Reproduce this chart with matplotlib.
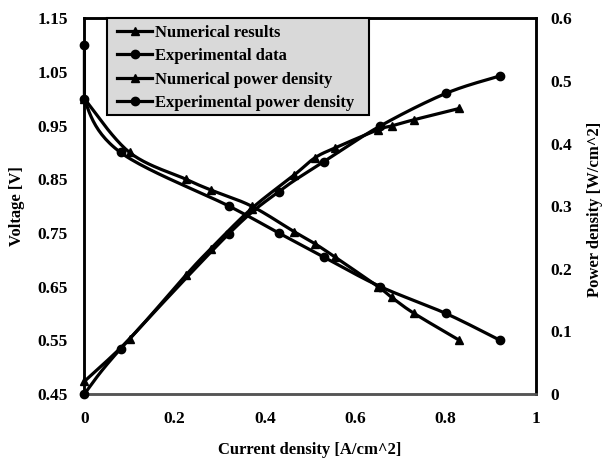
import numpy as np
import matplotlib
matplotlib.use("Agg")
import matplotlib.pyplot as plt
from matplotlib.lines import Line2D
from matplotlib.patches import Rectangle

# Polarization data (current density in A/cm^2, voltage in V)
num_i = [0.0, 0.10, 0.225, 0.28, 0.37, 0.465, 0.51, 0.555, 0.65, 0.68, 0.73, 0.83]
num_v = [1.00, 0.90, 0.85, 0.83, 0.80, 0.752, 0.73, 0.705, 0.65, 0.63, 0.60, 0.55]
exp_i = [0.0, 0.0, 0.08, 0.32, 0.43, 0.53, 0.655, 0.80, 0.92]
exp_v = [1.10, 1.00, 0.90, 0.80, 0.75, 0.705, 0.65, 0.60, 0.55]

# Power density curves (W/cm^2)
nump_i = [0.0, 0.10, 0.225, 0.28, 0.37, 0.465, 0.51, 0.555, 0.65, 0.68, 0.73, 0.83]
nump_p = [0.02, 0.088, 0.19, 0.232, 0.296, 0.35, 0.377, 0.393, 0.422, 0.428, 0.438, 0.456]
expp_i = [0.0, 0.08, 0.32, 0.43, 0.53, 0.655, 0.80, 0.92]
expp_p = [0.0, 0.072, 0.256, 0.323, 0.371, 0.428, 0.48, 0.508]

x_ticks = [0, 0.2, 0.4, 0.6, 0.8, 1]
x_tick_labels = ["0", "0.2", "0.4", "0.6", "0.8", "1"]
v_ticks = [0.45, 0.55, 0.65, 0.75, 0.85, 0.95, 1.05, 1.15]
p_ticks = [0, 0.1, 0.2, 0.3, 0.4, 0.5, 0.6]
p_tick_labels = ["0", "0.1", "0.2", "0.3", "0.4", "0.5", "0.6"]

legend_labels = ["Numerical results", "Experimental data",
                 "Numerical power density", "Experimental power density"]

SERIF = "Liberation Serif"


def smooth(x, y, n=24):
    """Catmull-Rom style smoothing through the given points."""
    x = np.asarray(x, float)
    y = np.asarray(y, float)
    if len(x) < 3:
        return x, y
    px = np.concatenate([[x[0]], x, [x[-1]]])
    py = np.concatenate([[y[0]], y, [y[-1]]])
    xs, ys = [], []
    t = np.linspace(0, 1, n, endpoint=False)
    for k in range(1, len(px) - 2):
        p0 = np.array([px[k - 1], py[k - 1]])
        p1 = np.array([px[k], py[k]])
        p2 = np.array([px[k + 1], py[k + 1]])
        p3 = np.array([px[k + 2], py[k + 2]])
        c1 = p1 + (p2 - p0) / 6.0
        c2 = p2 - (p3 - p1) / 6.0
        b = ((1 - t) ** 3)[:, None] * p1 + (3 * (1 - t) ** 2 * t)[:, None] * c1 \
            + (3 * (1 - t) * t ** 2)[:, None] * c2 + (t ** 3)[:, None] * p2
        xs.append(b[:, 0])
        ys.append(b[:, 1])
    xs.append([x[-1]])
    ys.append([y[-1]])
    # keep the curve from bulging left of the origin
    return np.clip(np.concatenate(xs), 0, None), np.concatenate(ys)


fig = plt.figure(figsize=(6.03, 4.58), dpi=100)
ax = fig.add_axes([0.140, 0.140, 0.749, 0.820])
ax2 = ax.twinx()

lw = 2.3
TRI_MS = 5.5
DOT_MS = 6.0


def draw(a, x, y, marker, ms):
    sx, sy = smooth(x, y)
    a.plot(sx, sy, color="black", lw=lw, solid_capstyle="round", clip_on=False, zorder=3)
    a.plot(x, y, ls="none", marker=marker, ms=ms, color="black", clip_on=False, zorder=4)


draw(ax, num_i, num_v, "^", TRI_MS)
draw(ax, exp_i, exp_v, "o", DOT_MS)
draw(ax2, nump_i, nump_p, "^", TRI_MS)
draw(ax2, expp_i, expp_p, "o", DOT_MS)

ax.set_xlim(0, 1)
ax.set_ylim(0.45, 1.15)
ax2.set_ylim(0, 0.6)

tick_font = dict(family=SERIF, weight="bold", size=12.5)
ax.set_xticks(x_ticks)
ax.set_xticklabels(x_tick_labels, **tick_font)
ax.set_yticks(v_ticks)
ax.set_yticklabels([f"{v:.2f}" for v in v_ticks], **tick_font)
ax2.set_yticks(p_ticks)
ax2.set_yticklabels(p_tick_labels, **tick_font)

ax.tick_params(axis="y", length=0, pad=12)
ax.tick_params(axis="x", length=0, pad=12)
ax2.tick_params(axis="y", length=0, pad=10)

for a in (ax, ax2):
    for s in a.spines.values():
        s.set_linewidth(1.8)
        s.set_color("black")
ax.spines["bottom"].set_color("#555555")
ax2.spines["bottom"].set_color("#555555")

label_font = dict(family=SERIF, weight="bold", size=12)
ax.set_xlabel("Current density [A/cm^2]", va="center", ha="center", **label_font)
ax.xaxis.set_label_coords(0.498, -0.149)
ax.set_ylabel("Voltage [V]", va="center", ha="center", **label_font)
ax.yaxis.set_label_coords(-0.149, 0.5)
ax2.set_ylabel("Power density [W/cm^2]", rotation=90, va="center", ha="center", **label_font)
ax2.yaxis.set_label_coords(1.13, 0.49)

# grey legend panel
panel = Rectangle((0.0498, 0.7426), 0.630 - 0.0498, 1.0 - 0.7426,
                  transform=ax2.transAxes, facecolor="#d9d9d9",
                  edgecolor="black", linewidth=1.5, zorder=9, clip_on=False)
ax2.add_patch(panel)

handles = [
    Line2D([], [], color="black", lw=lw, marker="^", ms=TRI_MS),
    Line2D([], [], color="black", lw=lw, marker="o", ms=DOT_MS),
    Line2D([], [], color="black", lw=lw, marker="^", ms=TRI_MS),
    Line2D([], [], color="black", lw=lw, marker="o", ms=DOT_MS),
]
leg = ax2.legend(handles, legend_labels, loc="upper left",
                 bbox_to_anchor=(0.062, 0.9963), frameon=False,
                 borderpad=0.3, labelspacing=0.45, handlelength=2.05,
                 handletextpad=0.2, borderaxespad=0,
                 prop=dict(family=SERIF, weight="bold", size=12))
leg.set_zorder(10)

fig.savefig("out.png", dpi=100)
